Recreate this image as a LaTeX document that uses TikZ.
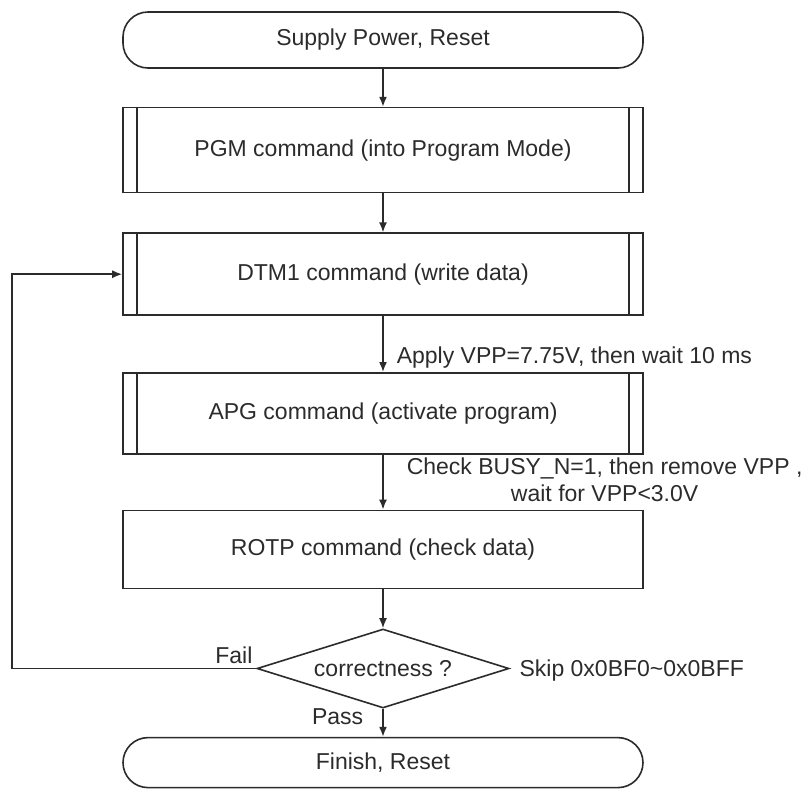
\documentclass[tikz,border=0pt]{standalone}
\usepackage{fontspec}
\setmainfont{Liberation Sans}
\usetikzlibrary{arrows.meta, positioning, shapes.geometric}
\definecolor{ink}{HTML}{2B2B2B}

\begin{document}
\begin{tikzpicture}[>={Latex[length=10pt,width=8pt]},x=1pt,y=1pt,
  line width=1.6pt,color=ink,font=\fontsize{23}{27}\selectfont,
  box node/.style={rectangle,draw,minimum width=520pt,minimum height=82pt,inner sep=0pt},
  term node/.style={box node,rounded corners=25pt,minimum height=56pt},
  test node/.style={diamond,draw,aspect=3.2,minimum width=252pt,minimum height=79pt,inner sep=0pt},
  note/.style={inner sep=3pt}]
  \useasboundingbox (0,0) rectangle (807,-793);

  \node[term node] (start) at (383,-40) {Supply Power, Reset};
  \node[box node] (pgm) [below=38pt of start, minimum height=85pt] {PGM command (into Program Mode)};
  \node[box node] (dtm) [below=39pt of pgm] {DTM1 command (write data)};
  \node[box node] (apg) [below=56pt of dtm, minimum height=81pt] {APG command (activate program)};
  \node[box node] (rotp) [below=55pt of apg, minimum height=78pt] {ROTP command (check data)};
  \node[test node] (check) [below=39pt of rotp] {correctness ?};
  \node[term node] (finish) [below=28pt of check, minimum height=50pt] {Finish, Reset};
  \coordinate (loop) at (12,0);

  % side bars of the command boxes
  \foreach \n in {pgm,dtm,apg}
    \draw ([xshift=15pt]\n.north west) -- ([xshift=15pt]\n.south west)
          ([xshift=-15pt]\n.north east) -- ([xshift=-15pt]\n.south east);

  \path[->]
    (start) edge (pgm)
    (pgm) edge (dtm)
    (dtm) edge node[note, right=10pt, pos=0.75] {Apply VPP=7.75V, then wait 10 ms} (apg)
    (apg) edge node[note, right=20pt, pos=0.45, align=center]
      {Check BUSY\_N=1, then remove VPP ,\\ wait for VPP<3.0V} (rotp)
    (rotp) edge (check)
    (check) edge node[note, below left=-4pt and 16pt, pos=0] {Pass} (finish);

  \draw[->] (check.west) node[note, above left=1pt and 0pt] {Fail}
    -- (check.west -| loop) |- (dtm.west);
  \node[note, right=6pt of check.east, yshift=-2pt] (skip) {Skip 0x0BF0\textasciitilde0x0BFF};
\end{tikzpicture}
\end{document}
